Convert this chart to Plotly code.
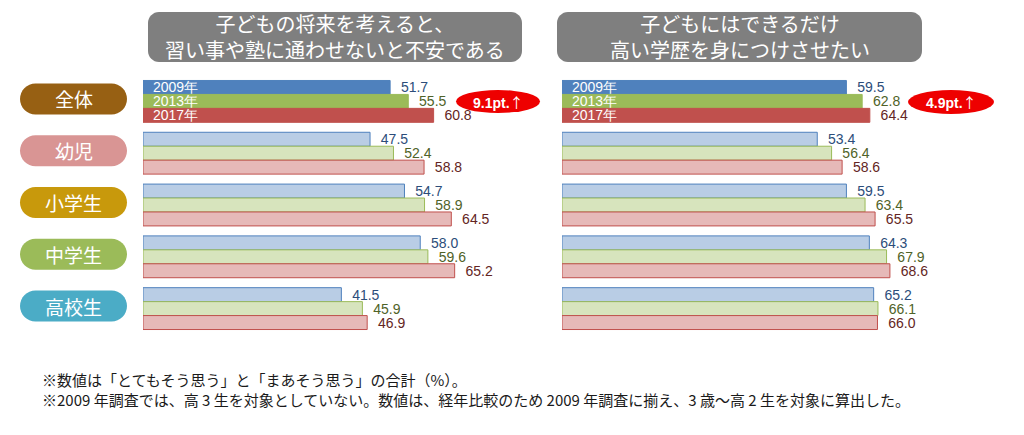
import plotly.graph_objects as go

# ---------------- data ----------------
categories = ["全体", "幼児", "小学生", "中学生", "高校生"]
years = ["2009年", "2013年", "2017年"]

anxiety_2009 = [51.7, 47.5, 54.7, 58.0, 41.5]
anxiety_2013 = [55.5, 52.4, 58.9, 59.6, 45.9]
anxiety_2017 = [60.8, 58.8, 64.5, 65.2, 46.9]

education_2009 = [59.5, 53.4, 59.5, 64.3, 65.2]
education_2013 = [62.8, 56.4, 63.4, 67.9, 66.1]
education_2017 = [64.4, 58.6, 65.5, 68.6, 66.0]

panel_titles = ["子どもの将来を考えると、<br>習い事や塾に通わせないと不安である",
                "子どもにはできるだけ<br>高い学歴を身につけさせたい"]
footnotes = ["※数値は「とてもそう思う」と「まあそう思う」の合計（%）。",
             "※2009 年調査では、高 3 生を対象としていない。数値は、経年比較のため 2009 年調査に揃え、3 歳～高 2 生を対象に算出した。"]

# ---------------- styles ----------------
W, H = 1024, 435
dark = ["#4F81BD", "#9BBB59", "#C0504D"]
light = ["#B9CDE5", "#D7E4BD", "#E6B9B8"]
txtcol = ["#2C4D7A", "#4F6228", "#632523"]
pill_colors = ["#976013", "#D99594", "#C8990C", "#9BBB59", "#4BACC6"]
JP = "Noto Sans CJK JP"
NUM = "Liberation Sans"

bargap = 10 / 52
barw = (1 - bargap) / 3

fig = go.Figure()

panels = [((anxiety_2009, anxiety_2013, anxiety_2017), "x"),
          ((education_2009, education_2013, education_2017), "x2")]

for vals3, xa in panels:
    for j, vals in enumerate(vals3):
        n = len(vals)
        fig.add_trace(go.Bar(
            y=categories, x=vals, orientation="h",
            xaxis=xa, yaxis="y",
            marker=dict(color=[dark[j]] + [light[j]] * (n - 1),
                        line=dict(color=dark[j], width=1)),
            texttemplate="  %{x:.1f}", textposition="outside",
            textfont=dict(family=NUM, size=14, color=txtcol[j]),
            constraintext="none", cliponaxis=False,
            hoverinfo="skip", showlegend=False,
        ))

# axes
x0_left, x0_right, pxu, xmax = 143, 562, 4.78, 80
fig.update_layout(
    width=W, height=H,
    margin=dict(l=0, r=0, t=0, b=0),
    paper_bgcolor="white", plot_bgcolor="white",
    barmode="group", bargap=bargap, bargroupgap=0,
    xaxis=dict(domain=[x0_left / W, (x0_left + xmax * pxu) / W], range=[0, xmax],
               visible=False, anchor="y"),
    xaxis2=dict(domain=[x0_right / W, (x0_right + xmax * pxu) / W], range=[0, xmax],
                visible=False, anchor="y"),
    yaxis=dict(domain=[1 - 334.5 / H, 1 - 75.5 / H], range=[len(categories) - 0.5, -0.5],
               type="category", visible=False),
)

def rrect(hw, hh, r):
    k = 0.5523 * r
    return (f"M {-hw + r},{-hh} L {hw - r},{-hh} "
            f"C {hw - r + k},{-hh} {hw},{-hh + r - k} {hw},{-hh + r} "
            f"L {hw},{hh - r} "
            f"C {hw},{hh - r + k} {hw - r + k},{hh} {hw - r},{hh} "
            f"L {-hw + r},{hh} "
            f"C {-hw + r - k},{hh} {-hw},{hh - r + k} {-hw},{hh - r} "
            f"L {-hw},{-hh + r} "
            f"C {-hw},{-hh + r - k} {-hw + r - k},{-hh} {-hw + r},{-hh} Z")

shapes = []
annotations = []

# header boxes
for (cx, hw), title in zip([(335, 187), (739.5, 182.5)], panel_titles):
    shapes.append(dict(type="path", xref="paper", yref="paper",
                       xsizemode="pixel", ysizemode="pixel",
                       xanchor=cx / W, yanchor=1 - 37 / H,
                       path=rrect(hw, 25, 11), fillcolor="#7F7F7F",
                       line=dict(width=0), layer="below"))
    annotations.append(dict(x=cx / W, y=1 - 36.5 / H, xref="paper", yref="paper",
                            xanchor="center", yanchor="middle",
                            text=title, showarrow=False,
                            font=dict(family=JP, size=20, color="white")))

# category pills
for i, (cat, col) in enumerate(zip(categories, pill_colors)):
    yc = i - 2.5 / 52
    shapes.append(dict(type="path", xref="paper", yref="y",
                       xsizemode="pixel", ysizemode="pixel",
                       xanchor=73.5 / W, yanchor=yc,
                       path=rrect(53.5, 15.5, 15.5), fillcolor=col,
                       line=dict(width=0), layer="below"))
    annotations.append(dict(x=73.5 / W, y=yc, xref="paper", yref="y",
                            xanchor="center", yanchor="middle",
                            text=cat, showarrow=False,
                            font=dict(family=JP, size=19, color="white")))

# year labels inside the overall bars
for xa in ["x", "x2"]:
    for j, yr in enumerate(years):
        annotations.append(dict(x=0, y=(j - 1) * barw, xref=xa, yref="y",
                                text=yr, showarrow=False, xanchor="left", yanchor="middle",
                                xshift=8,
                                font=dict(family=NUM, size=14, color="white")))

# difference ellipses
for (xl, xr, yt, yb), v09, v17 in [((456, 540, 90, 113), anxiety_2009[0], anxiety_2017[0]),
                                   ((908, 994, 90, 114), education_2009[0], education_2017[0])]:
    shapes.append(dict(type="circle", xref="paper", yref="paper",
                       x0=xl / W, x1=xr / W, y0=1 - yb / H, y1=1 - yt / H,
                       fillcolor="#EE0000", line=dict(width=0)))
    annotations.append(dict(x=(xl + xr) / 2 / W, y=1 - (yt + yb) / 2 / H,
                            xref="paper", yref="paper",
                            xanchor="center", yanchor="middle",
                            text=f"<b>{v17 - v09:.1f}pt.</b><span style='font-family:Noto Sans CJK JP'>↑</span>",
                            showarrow=False,
                            font=dict(family=NUM, size=14, color="white")))

# footnotes
for k, note in enumerate(footnotes):
    annotations.append(dict(x=40 / W, y=1 - (379 + 20 * k) / H, xref="paper", yref="paper",
                            text=note, showarrow=False, xanchor="left", yanchor="middle",
                            font=dict(family=JP, size=15, color="#1A1A1A")))

fig.update_layout(shapes=shapes, annotations=annotations)

fig.write_html("out.html",
               config={"displayModeBar": False, "staticPlot": True},
               post_script="document.body.style.margin='0';document.body.style.overflow='hidden';")
